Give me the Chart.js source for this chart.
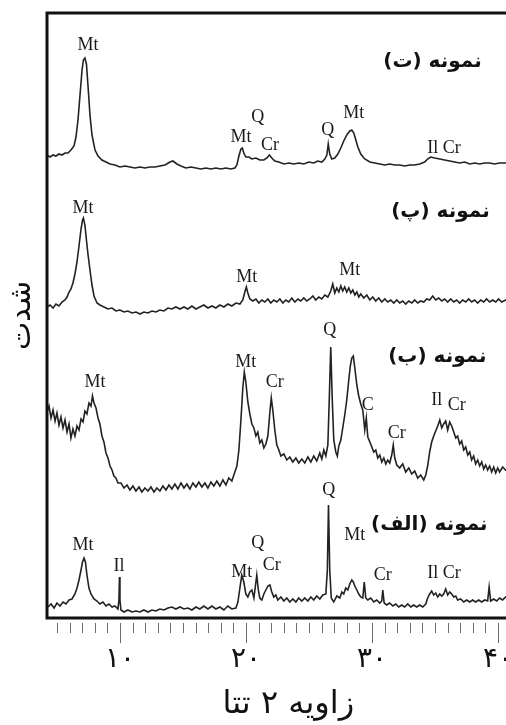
<!DOCTYPE html>
<html><head><meta charset="utf-8">
<script src="https://cdn.jsdelivr.net/npm/chart.js@4.4.0/dist/chart.umd.min.js"></script>
<style>
html,body{margin:0;padding:0;overflow:hidden;background:#fff;width:506px;height:725px}
#wrap{width:530px;height:725px}
canvas{display:block}
</style></head>
<body><div id="wrap"><canvas id="c" width="530" height="725"></canvas></div>
<script>
// ---- x axis ----
const xMin = 4.21, xMax = 42.51;
const tickValues = [10, 20, 30, 40];
const tickLabels = ['۱۰', '۲۰', '۳۰', '۴۰'];
const xTitle = 'زاویه ۲ تتا';
const yTitle = 'شدت';

// ---- sample (ت) ----
const theta_T = [4.21,4.45,4.69,4.92,5.16,5.40,5.64,5.88,6.11,6.35,6.51,6.67,6.83,6.99,7.10,7.22,7.34,7.46,7.62,7.78,8.02,8.26,8.57,8.89,9.21,9.60,10.00,10.40,10.79,11.19,11.59,11.98,12.38,12.78,13.17,13.57,13.97,14.20,14.52,14.84,15.23,15.63,16.03,16.42,16.82,17.22,17.61,18.01,18.41,18.80,19.12,19.28,19.44,19.60,19.71,19.83,19.99,20.23,20.47,20.79,21.10,21.42,21.66,21.86,22.05,22.29,22.61,23.01,23.40,23.80,24.19,24.59,24.99,25.38,25.70,26.02,26.26,26.42,26.53,26.65,26.81,27.05,27.29,27.53,27.76,28.00,28.24,28.40,28.56,28.72,28.88,29.11,29.43,29.83,30.22,30.62,31.02,31.41,31.81,32.20,32.60,33.00,33.39,33.79,34.18,34.42,34.66,34.98,35.38,35.77,36.17,36.57,36.96,37.36,37.76,38.15,38.55,38.95,39.34,39.74,40.13,40.61,41.32,42.51];
const counts_T = [463,461,463,462,464,463,465,465,468,472,481,498,523,548,558,560,554,533,503,483,468,462,458,456,454,453,451,452,451,450,451,450,451,451,452,453,456,457,454,452,450,451,450,449,450,449,450,449,450,449,450,453,462,469,470,465,461,461,459,460,458,458,460,463,460,457,456,454,455,454,455,454,456,455,457,456,459,463,474,464,459,460,464,470,477,483,487,488,485,478,471,464,459,456,455,454,453,454,453,453,452,453,453,454,456,459,461,460,459,458,457,456,455,456,454,455,454,455,455,454,455,455,454,455];

// ---- sample (پ) ----
const theta_P = [4.21,4.45,4.69,4.92,5.16,5.40,5.64,5.80,5.96,6.11,6.27,6.43,6.59,6.75,6.91,7.03,7.10,7.22,7.34,7.46,7.62,7.78,7.94,8.18,8.41,8.73,9.05,9.37,9.68,10.00,10.32,10.63,10.95,11.27,11.59,11.90,12.22,12.54,12.85,13.17,13.49,13.81,14.12,14.44,14.76,15.08,15.39,15.71,16.03,16.34,16.66,16.98,17.30,17.61,17.93,18.25,18.56,18.88,19.20,19.52,19.75,19.91,20.03,20.15,20.31,20.55,20.79,21.02,21.26,21.50,21.74,21.97,22.21,22.45,22.69,22.93,23.16,23.40,23.64,23.88,24.12,24.35,24.59,24.83,25.07,25.31,25.54,25.78,26.02,26.26,26.50,26.73,26.89,27.05,27.21,27.37,27.53,27.68,27.84,28.00,28.16,28.32,28.48,28.64,28.80,28.95,29.11,29.35,29.59,29.83,30.06,30.30,30.54,30.78,31.02,31.25,31.49,31.73,31.97,32.20,32.44,32.68,32.92,33.16,33.39,33.63,33.87,34.11,34.35,34.58,34.82,35.06,35.30,35.54,35.77,36.01,36.25,36.49,36.72,36.96,37.20,37.44,37.68,37.91,38.15,38.39,38.63,38.87,39.10,39.34,39.58,39.82,40.05,40.29,40.61,41.32,42.51];
const counts_P = [311,313,310,314,312,316,318,321,326,329,335,344,356,372,389,398,400,393,378,364,348,333,322,315,313,311,309,310,307,308,306,307,305,306,304,306,305,307,306,308,307,310,309,311,309,311,309,312,309,311,313,310,312,310,313,311,314,312,315,314,318,326,331,325,319,317,319,315,318,316,319,315,318,316,319,315,318,316,320,316,319,317,320,317,319,322,318,321,319,323,321,327,334,325,330,326,332,327,331,326,330,325,328,323,326,321,324,320,323,318,321,317,320,316,319,316,318,315,318,315,317,314,317,315,318,315,317,316,319,318,322,318,320,317,319,316,319,316,318,315,318,316,319,316,318,315,318,316,319,316,318,316,319,316,318,317,318];

// ---- sample (ب) ----
const theta_B = [4.21,4.37,4.53,4.69,4.85,5.00,5.16,5.32,5.48,5.64,5.80,5.96,6.11,6.27,6.43,6.59,6.75,6.91,7.07,7.22,7.38,7.54,7.70,7.82,7.94,8.10,8.26,8.41,8.57,8.73,8.89,9.05,9.21,9.37,9.52,9.68,9.84,10.08,10.32,10.56,10.79,11.03,11.27,11.51,11.74,11.98,12.22,12.46,12.70,12.93,13.17,13.41,13.65,13.89,14.12,14.36,14.60,14.84,15.08,15.31,15.55,15.79,16.03,16.26,16.50,16.74,16.98,17.22,17.45,17.69,17.93,18.17,18.41,18.64,18.88,19.12,19.28,19.44,19.60,19.75,19.87,19.99,20.15,20.31,20.47,20.63,20.79,20.94,21.10,21.26,21.42,21.58,21.74,21.90,22.01,22.13,22.29,22.45,22.61,22.77,23.01,23.24,23.48,23.72,23.96,24.19,24.43,24.67,24.91,25.15,25.38,25.62,25.86,26.02,26.18,26.34,26.50,26.61,26.73,26.85,26.97,27.13,27.25,27.37,27.53,27.68,27.84,28.00,28.16,28.28,28.40,28.52,28.64,28.80,28.95,29.11,29.27,29.43,29.55,29.67,29.83,29.99,30.14,30.30,30.46,30.62,30.78,30.94,31.10,31.25,31.41,31.57,31.69,31.81,31.97,32.20,32.44,32.68,32.92,33.16,33.39,33.63,33.87,34.11,34.27,34.42,34.58,34.74,34.90,35.06,35.22,35.38,35.54,35.69,35.85,36.01,36.17,36.33,36.49,36.65,36.80,36.96,37.12,37.28,37.44,37.60,37.76,37.91,38.07,38.23,38.39,38.55,38.71,38.87,39.02,39.18,39.34,39.50,39.66,39.82,39.98,40.13,40.37,40.61,41.32,42.51];
const counts_B = [206,212,200,208,197,205,193,201,190,198,186,194,180,189,182,192,188,199,196,207,204,215,212,222,215,210,200,194,182,176,165,160,152,148,142,140,135,135,130,133,128,132,127,131,126,130,127,131,126,130,127,132,128,133,129,134,129,135,130,134,129,135,131,136,131,135,130,136,132,137,132,138,133,140,137,146,152,168,198,230,246,236,216,204,194,190,182,186,175,178,170,174,182,206,220,208,188,173,168,162,164,158,161,156,160,155,159,155,161,156,162,157,165,159,168,162,173,218,271,218,178,166,162,172,178,190,203,218,238,252,260,262,250,233,222,214,208,188,200,181,176,171,166,168,160,163,156,160,154,158,155,163,173,160,153,150,154,146,150,144,147,140,143,138,143,152,166,176,182,187,192,198,190,194,197,188,196,192,186,180,182,174,177,168,171,163,166,158,162,154,158,152,156,149,153,148,152,146,151,145,150,146,151,148,150,147];

// ---- sample (الف) ----
const theta_A = [4.29,4.53,4.77,5.00,5.24,5.48,5.72,5.96,6.19,6.43,6.59,6.75,6.91,7.03,7.15,7.26,7.38,7.54,7.70,7.94,8.18,8.41,8.65,8.89,9.13,9.37,9.60,9.84,9.92,9.96,10.00,10.08,10.32,10.63,10.95,11.27,11.59,11.90,12.22,12.54,12.85,13.17,13.49,13.81,14.12,14.44,14.76,15.08,15.39,15.71,16.03,16.34,16.66,16.98,17.30,17.61,17.93,18.25,18.56,18.88,19.20,19.36,19.52,19.67,19.83,19.99,20.15,20.31,20.47,20.63,20.79,20.86,20.98,21.10,21.26,21.42,21.58,21.74,21.90,22.05,22.21,22.37,22.53,22.77,23.01,23.24,23.48,23.72,23.96,24.19,24.43,24.67,24.91,25.15,25.38,25.62,25.86,26.10,26.34,26.46,26.55,26.65,26.77,26.97,27.21,27.45,27.61,27.76,27.92,28.08,28.24,28.40,28.52,28.64,28.80,28.95,29.11,29.27,29.39,29.51,29.67,29.91,30.14,30.38,30.62,30.78,30.86,30.97,31.17,31.41,31.65,31.89,32.13,32.36,32.60,32.84,33.08,33.31,33.55,33.79,34.03,34.27,34.42,34.58,34.74,34.90,35.06,35.22,35.38,35.54,35.69,35.85,36.01,36.17,36.33,36.49,36.65,36.80,37.04,37.28,37.52,37.76,37.99,38.23,38.47,38.71,38.95,39.18,39.30,39.42,39.66,39.90,40.13,40.37,40.61,41.32,42.51];
const counts_A = [11,14,10,15,12,16,14,18,19,24,30,38,48,56,60,56,43,30,24,19,17,14,16,12,14,11,12,9,18,41,18,8,6,8,6,7,6,8,6,8,7,9,8,10,11,9,11,9,10,8,11,9,12,9,12,9,11,8,12,9,10,16,30,43,36,24,21,26,28,20,36,43,28,20,18,24,28,32,33,26,21,23,18,21,17,20,16,19,16,20,17,20,17,21,18,22,19,23,24,48,113,48,20,16,22,20,26,24,30,28,34,38,36,32,28,24,21,20,36,20,18,20,16,18,15,17,28,15,13,15,12,14,11,13,11,14,11,13,11,13,11,14,20,24,27,23,25,21,24,22,24,29,23,26,24,21,22,18,19,16,18,16,18,16,18,16,18,17,31,17,19,17,20,18,21,19,20];

// ---- peak labels ----
const peaks_T = ['Mt','Mt','Q','Cr','Q','Mt','Il','Cr'];
const peakX_T = [7.46,19.60,20.94,21.90,26.49,28.56,34.82,36.33];
const peakY_T = [573,481,501,473,488,505,470,470];
const peaks_P = ['Mt','Mt','Mt'];
const peakX_P = [7.07,20.07,28.24];
const peakY_P = [410,341,348];
const peaks_B = ['Mt','Mt','Cr','Q','C','Cr','Il','Cr'];
const peakX_B = [8.02,19.99,22.29,26.65,29.67,31.97,35.14,36.72];
const peakY_B = [236,256,236,288,213,185,218,213];
const peaks_A = ['Mt','Il','Mt','Q','Cr','Q','Mt','Cr','Il','Cr'];
const peakX_A = [7.07,9.92,19.67,20.94,22.05,26.57,28.64,30.86,34.82,36.33];
const peakY_A = [73,52,46,75,53,128,83,43,45,45];

// ---- sample names ----
const sampleNames = ['نمونه (ت)', 'نمونه (پ)', 'نمونه (ب)', 'نمونه (الف)'];
const sampleNameX = [38.71, 39.34, 39.10, 39.18];
const sampleNameY = [556, 406, 261, 93];

const yMin = 0, yMax = 605;

function pts(xs, ys) { return xs.map((x, i) => ({x: x, y: ys[i]})); }
const lineStyle = {borderColor: '#222', borderWidth: 1.6, pointRadius: 0, tension: 0, fill: false};

const allPeaks = [
  [peaks_T, peakX_T, peakY_T],
  [peaks_P, peakX_P, peakY_P],
  [peaks_B, peakX_B, peakY_B],
  [peaks_A, peakX_A, peakY_A]
];

const decor = {
  id: 'decor',
  afterDatasetsDraw(chart) {
    const {ctx, scales: {x, y}} = chart;
    ctx.save();
    ctx.fillStyle = '#1a1a1a';
    ctx.font = '18px "Liberation Serif", "Times New Roman", serif';
    ctx.textAlign = 'center';
    ctx.textBaseline = 'middle';
    allPeaks.forEach(([t, px, py]) => {
      t.forEach((s, i) => ctx.fillText(s, x.getPixelForValue(px[i]), y.getPixelForValue(py[i])));
    });
    ctx.font = 'bold 20px "DejaVu Sans", sans-serif';
    ctx.direction = 'rtl';
    ctx.textAlign = 'right';
    ctx.fillStyle = '#111';
    sampleNames.forEach((s, i) => ctx.fillText(s, x.getPixelForValue(sampleNameX[i]), y.getPixelForValue(sampleNameY[i])));
    ctx.restore();
  },
  afterDraw(chart) {
    const {ctx, chartArea: a, scales: {x}} = chart;
    ctx.save();
    ctx.strokeStyle = '#6a6a6a';
    ctx.lineWidth = 1;
    for (let t = Math.ceil(xMin); t <= xMax; t++) {
      const px = Math.round(x.getPixelForValue(t)) + 0.5;
      const major = t % 10 === 0;
      ctx.beginPath();
      ctx.moveTo(px, a.bottom + 5);
      ctx.lineTo(px, a.bottom + (major ? 25 : 15));
      ctx.stroke();
    }
    ctx.strokeStyle = '#111';
    ctx.lineWidth = 3;
    ctx.beginPath();
    ctx.moveTo(a.right + 5, a.top);
    ctx.lineTo(a.left, a.top);
    ctx.lineTo(a.left, a.bottom);
    ctx.lineTo(a.right + 5, a.bottom);
    ctx.stroke();
    ctx.restore();
  }
};

new Chart(document.getElementById('c'), {
  type: 'line',
  data: {
    datasets: [
      Object.assign({label: sampleNames[0], data: pts(theta_T, counts_T)}, lineStyle),
      Object.assign({label: sampleNames[1], data: pts(theta_P, counts_P)}, lineStyle),
      Object.assign({label: sampleNames[2], data: pts(theta_B, counts_B)}, lineStyle),
      Object.assign({label: sampleNames[3], data: pts(theta_A, counts_A)}, lineStyle)
    ]
  },
  options: {
    responsive: false,
    animation: false,
    devicePixelRatio: 1,
    layout: {padding: {top: 13, right: 0, left: 0, bottom: 0}},
    plugins: {legend: {display: false}, tooltip: {enabled: false}},
    scales: {
      x: {
        type: 'linear', min: xMin, max: xMax,
        grid: {display: false},
        border: {display: false},
        afterBuildTicks: (s) => { s.ticks = tickValues.map(v => ({value: v})); },
        afterFit: (s) => { s.height = 107; },
        ticks: {
          padding: 17,
          color: '#111',
          font: {family: '"DejaVu Sans", sans-serif', size: 28},
          maxRotation: 0,
          callback: (v, i) => tickLabels[i]
        },
        title: {
          display: true, text: xTitle, color: '#111',
          font: {family: '"DejaVu Sans", sans-serif', size: 32},
          padding: {top: 0, bottom: 1}
        }
      },
      y: {
        min: yMin, max: yMax,
        grid: {display: false},
        border: {display: false},
        ticks: {display: false},
        afterFit: (s) => { s.width = 47; },
        title: {
          display: true, text: yTitle, color: '#111',
          font: {family: '"DejaVu Sans", sans-serif', size: 30},
          padding: {top: 4, bottom: 4}
        }
      }
    }
  },
  plugins: [decor]
});
</script>
</body></html>
